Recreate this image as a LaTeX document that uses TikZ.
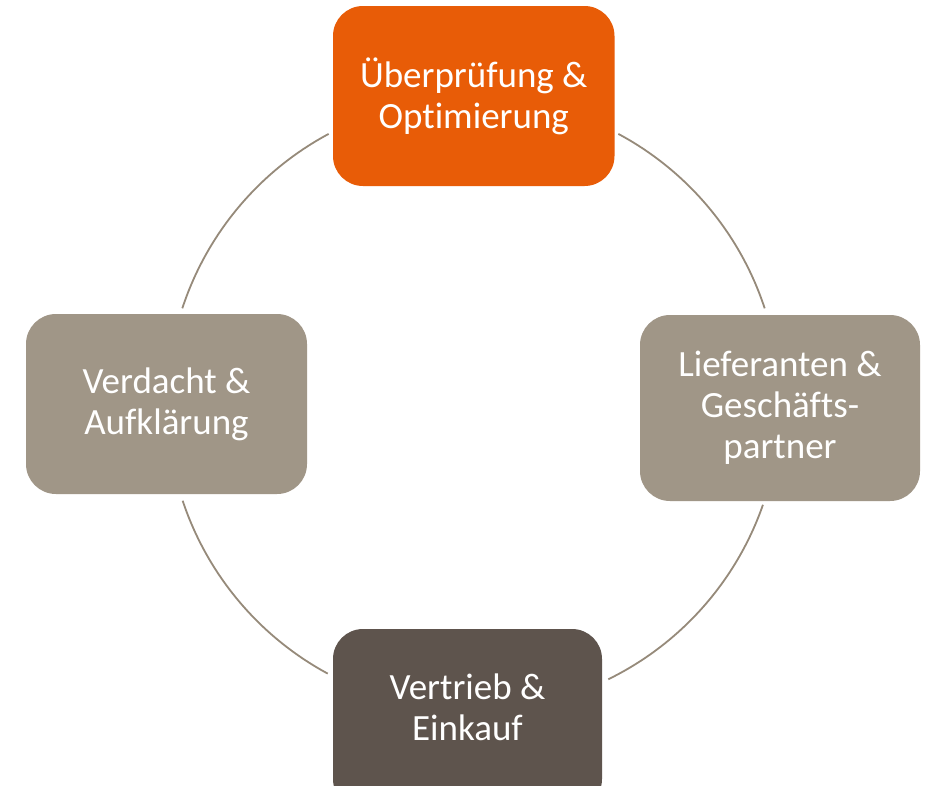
\documentclass[tikz,border=0pt]{standalone}
\usepackage{fontspec}
\setmainfont[Ligatures=NoCommon]{Carlito}
\usetikzlibrary{calc}
\definecolor{cOrange}{RGB}{232,92,7}
\definecolor{cGray}{RGB}{160,150,135}
\definecolor{cDark}{RGB}{94,84,77}
\definecolor{cRing}{RGB}{150,138,122}
\tikzset{
  boxtext/.style={text=white, align=center, inner sep=0pt,
    font=\fontsize{37}{41}\selectfont},
  box/.style={rectangle, rounded corners=30pt, boxtext},
  ring/.style={draw=cRing, line width=1.8pt}
}
\begin{document}
\begin{tikzpicture}[x=1pt,y=-1pt]
\useasboundingbox (0,0) rectangle (926,785);
\clip (0,0) rectangle (926,785);
\fill[white] (0,0) rectangle (926,785);
\coordinate (c) at (473.5,404);
\node[box, fill=cOrange, minimum width=281.5pt, minimum height=180pt] (ueber) at (473.75,96) {Überprüfung \&\\Optimierung};
\node[box, fill=cGray, minimum width=280pt, minimum height=186pt] (liefer) at (780,408) {Lieferanten \&\\Geschäfts-\\partner};
\node[box, fill=cDark, minimum width=269pt, minimum height=180pt,
  label={[boxtext, yshift=12pt]center:Vertrieb \&\\Einkauf}] (vertrieb) at (467.5,719) {};
\node[box, fill=cGray, minimum width=281pt, minimum height=180pt] (verdacht) at (166.5,404) {Verdacht \&\\Aufklärung};
\coordinate (a1) at ($(c)+(241.8:306.5)$);
\coordinate (b1) at ($(c)+(-61.8:306.5)$);
\coordinate (c1) at ($(c)+(19.2:306.5)$);
\coordinate (d1) at ($(c)+(161.6:306.5)$);
\draw[ring] (a1) arc[start angle=241.8, end angle=198.2, radius=306.5];
\draw[ring] (b1) arc[start angle=-61.8, end angle=-18.2, radius=306.5];
\draw[ring] (c1) arc[start angle=19.2, end angle=63.9, radius=306.5];
\draw[ring] (d1) arc[start angle=161.6, end angle=118.4, radius=306.5];
\end{tikzpicture}
\end{document}
